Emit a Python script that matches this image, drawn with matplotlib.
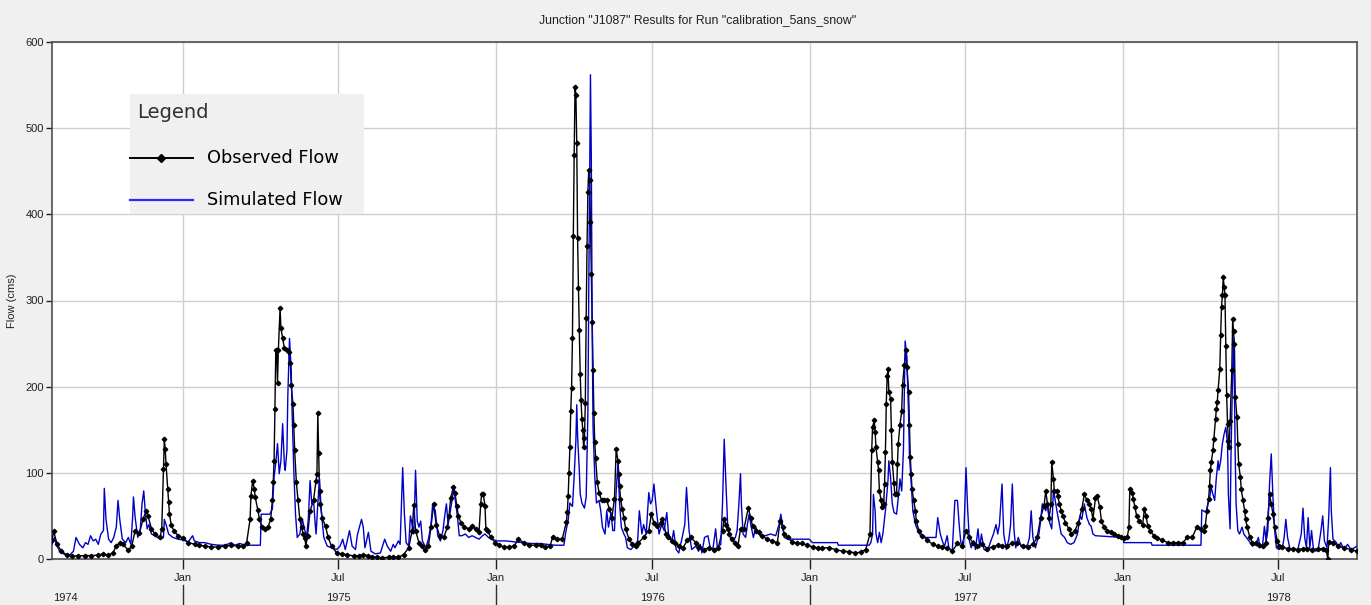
import numpy as np
import matplotlib
matplotlib.use("Agg")
import matplotlib.pyplot as plt
import matplotlib.dates as mdates
from matplotlib.patches import Rectangle
from matplotlib.lines import Line2D
from matplotlib.transforms import blended_transform_factory

# Record start / end of the calibration run
start = np.datetime64("1974-08-01")
end = np.datetime64("1978-10-01")

# Observed flow (cms): day offset from the record start, value
obs_day = [
    0, 2, 6, 11, 17, 23, 30, 38, 46, 54, 60, 65, 71, 75, 79, 83, 89, 93, 97, 102,
    106, 110, 112, 116, 120, 126, 128, 130, 131, 132, 133, 135, 136, 137, 139, 142,
    147, 153, 159, 167, 172, 178, 186, 194, 202, 209, 217, 223, 227, 231, 232, 234,
    236, 237, 240, 242, 245, 248, 252, 255, 257, 258, 259, 260, 261, 262, 263, 264,
    266, 267, 269, 271, 274, 276, 278, 279, 281, 282, 283, 285, 287, 289, 291, 293,
    295, 296, 298, 301, 305, 308, 309, 310, 311, 312, 313, 315, 319, 322, 326, 332,
    338, 344, 352, 358, 363, 369, 373, 379, 385, 393, 398, 404, 410, 416, 420, 422,
    424, 428, 431, 435, 439, 442, 445, 448, 452, 457, 461, 463, 465, 468, 470, 472,
    474, 477, 481, 486, 490, 494, 498, 500, 501, 503, 505, 506, 508, 512, 517, 521,
    527, 533, 539, 544, 550, 556, 564, 570, 575, 581, 584, 589, 595, 600, 601, 602,
    603, 604, 605, 606, 607, 608, 609, 610, 611, 612, 613, 614, 615, 616, 617, 618,
    619, 620, 621, 622, 623, 624, 625, 626, 627, 628, 629, 630, 631, 632, 633, 634,
    636, 638, 641, 644, 647, 650, 653, 656, 658, 660, 661, 662, 663, 665, 667, 669,
    673, 677, 681, 684, 690, 696, 699, 702, 706, 710, 712, 716, 719, 723, 727, 731,
    736, 741, 745, 751, 755, 760, 766, 772, 777, 782, 784, 786, 788, 790, 793, 797,
    800, 803, 807, 812, 815, 817, 821, 824, 828, 834, 840, 846, 849, 852, 854, 858,
    863, 869, 875, 881, 887, 893, 898, 906, 914, 922, 930, 937, 943, 949, 954, 956,
    957, 959, 960, 961, 963, 964, 965, 967, 968, 970, 971, 972, 973, 974, 975, 976,
    978, 979, 980, 982, 983, 985, 986, 987, 989, 991, 992, 994, 996, 997, 999, 1000,
    1001, 1002, 1003, 1005, 1007, 1008, 1011, 1015, 1021, 1027, 1033, 1038, 1044,
    1050, 1056, 1061, 1066, 1070, 1074, 1079, 1085, 1091, 1097, 1103, 1108, 1114,
    1120, 1126, 1132, 1138, 1144, 1149, 1153, 1157, 1159, 1161, 1163, 1165, 1166,
    1168, 1169, 1172, 1173, 1175, 1177, 1179, 1182, 1186, 1189, 1193, 1197, 1201,
    1204, 1207, 1210, 1212, 1214, 1217, 1219, 1222, 1224, 1227, 1231, 1235, 1239,
    1243, 1247, 1250, 1254, 1256, 1257, 1260, 1261, 1263, 1265, 1268, 1272, 1274,
    1276, 1278, 1281, 1285, 1289, 1295, 1301, 1307, 1313, 1319, 1324, 1330, 1335,
    1340, 1344, 1345, 1347, 1349, 1350, 1351, 1352, 1354, 1355, 1357, 1358, 1359,
    1360, 1362, 1363, 1364, 1365, 1366, 1367, 1368, 1369, 1370, 1371, 1372, 1373,
    1374, 1376, 1377, 1378, 1379, 1380, 1382, 1383, 1384, 1386, 1387, 1389, 1391,
    1392, 1394, 1397, 1400, 1404, 1408, 1412, 1416, 1418, 1420, 1422, 1424, 1426,
    1429, 1431, 1435, 1441, 1447, 1453, 1459, 1464, 1470, 1476, 1482, 1486, 1488,
    1489, 1494, 1500, 1507, 1515, 1522,
]
obs_flow = [
    22, 32, 17, 9, 5, 3.5, 3.5, 4, 4, 4.5, 6, 4.5, 7, 15, 19, 17, 10, 15, 33, 30,
    46, 56, 50, 35, 29, 25, 35, 104, 139, 128, 110, 81, 66, 52, 40, 33,
    27, 24, 19, 17, 16, 15, 14, 14, 15, 16, 15, 15, 19, 46, 73, 91,
    81, 72, 57, 46, 37, 35, 37, 46, 68, 89, 114, 174, 243, 243, 204, 243,
    291, 268, 256, 245, 242, 240, 227, 202, 180, 155, 126, 89, 68, 46, 37, 29,
    24, 15, 27, 56, 68, 91, 99, 169, 123, 79, 64, 48, 38, 25, 15, 7,
    6, 5, 3.5, 4, 5, 4, 2, 2, 1.5, 2, 2, 2, 5, 13, 33, 63,
    33, 19, 15, 10, 15, 37, 64, 40, 27, 25, 37, 50, 71, 83, 77, 62,
    50, 42, 37, 35, 38, 35, 31, 64, 75, 75, 62, 35, 33, 25, 19, 16,
    14, 14, 15, 23, 19, 16, 16, 16, 14, 15, 26, 23, 23, 43, 55, 73,
    100, 130, 172, 199, 257, 375, 469, 548, 539, 483, 372, 314, 266, 215, 185, 163,
    150, 130, 140, 181, 280, 363, 426, 451, 440, 391, 331, 275, 219, 169, 136, 117,
    89, 77, 68, 68, 68, 58, 48, 70, 128, 114, 99, 85, 70, 58, 48, 35,
    23, 17, 15, 19, 25, 33, 52, 42, 38, 42, 47, 29, 25, 21, 19, 15,
    13, 22, 25, 19, 14, 11, 13, 11, 13, 33, 46, 40, 35, 29, 23, 18,
    15, 35, 35, 59, 48, 38, 33, 31, 27, 23, 21, 19, 44, 37, 29, 25,
    20, 18, 18, 16, 14, 13, 13, 13, 11, 9, 8.5, 7, 8, 11, 29, 126,
    153, 161, 147, 130, 112, 103, 79, 68, 60, 64, 87, 124, 180, 212, 220, 194,
    186, 150, 113, 88, 75, 75, 110, 134, 156, 172, 202, 225, 242, 223, 194, 155,
    118, 99, 81, 68, 56, 44, 33, 27, 22, 17, 15, 14, 13,
    9, 18, 15, 33, 25, 19, 15, 17, 12, 14, 16, 15, 15,
    19, 19, 15, 14, 17, 25, 48, 62, 79, 64, 48, 64, 112,
    93, 79, 79, 73, 64, 56, 50, 42, 35, 29, 33, 42, 58,
    75, 68, 64, 58, 46, 71, 73, 60, 44, 37, 33, 31, 29,
    27, 25, 24, 25, 37, 81, 77, 70, 60, 50, 44, 40, 58,
    50, 38, 33, 27, 24, 22, 19, 19, 19, 19, 25, 25, 37,
    35, 33, 38, 56, 70, 85, 103, 112, 126, 139, 163, 174, 182,
    196, 221, 260, 293, 306, 327, 316, 306, 247, 190, 157, 137, 130,
    160, 219, 279, 265, 250, 188, 165, 134, 110, 95, 81, 68, 56,
    46, 37, 25, 19, 18, 16, 15, 19, 48, 75, 64, 52, 37,
    21, 15, 14, 12, 12, 11, 12, 12, 11, 12, 12, 11, 0,
    20, 19, 15, 13, 11, 9,
]

# Simulated flow (cms): day offset from the record start, value
sim_day = [
    0, 3, 5, 9, 15, 21, 25, 28, 32, 36, 39, 42, 45, 48, 51, 54, 57, 60, 61, 63,
    66, 69, 72, 75, 77, 79, 82, 86, 89, 92, 94, 95, 97, 100, 103, 105, 107, 109,
    111, 113, 116, 120, 126, 130, 131, 133, 136, 141, 147, 153, 159, 164, 166, 172,
    178, 186, 194, 202, 209, 213, 219, 225, 243, 244, 254, 257, 259, 261, 263, 265,
    267, 269, 271, 272, 274, 275, 277, 279, 280, 282, 284, 286, 289, 292, 294, 297,
    299, 301, 303, 305, 307, 308, 310, 312, 314, 317, 321, 326, 332, 336, 339, 342,
    347, 350, 354, 356, 358, 361, 363, 365, 369, 372, 377, 383, 388, 391, 395, 398,
    400, 404, 406, 409, 411, 413, 416, 418, 420, 422, 424, 426, 428, 430, 432, 436,
    439, 442, 444, 447, 450, 453, 456, 458, 460, 462, 464, 467, 469, 470, 473, 475,
    478, 482, 486, 490, 494, 498, 502, 505, 509, 513, 519, 529, 539, 548, 558, 568,
    577, 587, 597, 599, 602, 604, 607, 609, 611, 612, 613, 615, 616, 618, 621, 623,
    625, 626, 628, 629, 630, 631, 633, 635, 638, 640, 642, 645, 647, 649, 652, 654,
    656, 658, 660, 662, 664, 667, 669, 671, 675, 679, 683, 685, 688, 690, 693, 696,
    698, 700, 702, 705, 708, 711, 714, 717, 719, 723, 725, 728, 731, 735, 738, 740,
    743, 746, 751, 754, 756, 758, 761, 765, 768, 771, 774, 776, 780, 782, 784, 786,
    788, 790, 793, 797, 799, 801, 803, 804, 806, 809, 811, 813, 815, 818, 821, 823,
    826, 832, 838, 844, 848, 850, 852, 854, 858, 883, 887, 916, 917, 953, 955, 957,
    958, 960, 961, 963, 965, 967, 969, 972, 975, 976, 978, 980, 982, 985, 987, 989,
    991, 993, 994, 995, 997, 998, 999, 1000, 1002, 1004, 1007, 1009, 1013, 1019,
    1031, 1033, 1036, 1039, 1041, 1044, 1046, 1050, 1053, 1056, 1058, 1060, 1063,
    1066, 1068, 1070, 1072, 1075, 1077, 1080, 1082, 1084, 1087, 1091, 1095, 1098,
    1101, 1103, 1105, 1108, 1110, 1113, 1116, 1118, 1120, 1122, 1124, 1127, 1130,
    1134, 1138, 1140, 1142, 1144, 1147, 1151, 1153, 1155, 1157, 1159, 1161, 1163,
    1166, 1168, 1170, 1172, 1175, 1177, 1181, 1184, 1188, 1192, 1196, 1199, 1201,
    1204, 1207, 1210, 1212, 1214, 1217, 1249, 1250, 1282, 1283, 1340, 1341, 1346,
    1348, 1350, 1352, 1354, 1356, 1358, 1360, 1361, 1363, 1365, 1367, 1369, 1371,
    1372, 1374, 1375, 1377, 1378, 1379, 1380, 1381, 1383, 1385, 1388, 1390, 1393,
    1396, 1400, 1404, 1407, 1409, 1412, 1414, 1416, 1418, 1420, 1422, 1424, 1426,
    1428, 1431, 1435, 1437, 1439, 1441, 1444, 1453, 1457, 1459, 1461, 1463, 1465,
    1467, 1469, 1471, 1474, 1477, 1480, 1482, 1484, 1487, 1489, 1491, 1492, 1494,
    1498, 1500, 1503, 1507, 1511, 1515, 1519, 1522,
]
sim_flow = [
    17, 25, 17, 9, 5, 5, 9, 25, 17, 13, 19, 17, 27, 21, 23, 17, 29, 33, 82, 46,
    23, 19, 25, 37, 68, 46, 23, 19, 25, 17, 48, 72, 48, 25, 35, 64, 79, 52,
    35, 40, 29, 27, 23, 25, 46, 40, 29, 25, 23, 22, 20, 27, 21, 19,
    19, 17, 16, 16, 19, 16, 18, 16, 16, 52, 52, 58, 95, 112, 134, 99,
    114, 157, 110, 103, 126, 188, 256, 219, 172, 103, 52, 25, 29, 46, 37, 25,
    48, 91, 64, 68, 40, 29, 64, 93, 56, 25, 15, 13, 11, 15, 23, 11,
    33, 15, 11, 27, 35, 46, 37, 13, 31, 9, 6, 7, 23, 15, 9, 17,
    13, 21, 17, 106, 52, 19, 15, 50, 40, 29, 103, 44, 37, 44, 21, 13,
    23, 40, 64, 56, 27, 21, 33, 50, 64, 40, 52, 71, 85, 71, 48, 27,
    27, 29, 25, 27, 25, 23, 27, 29, 25, 23, 21, 21, 20, 19, 18, 18,
    17, 16, 16, 30, 45, 65, 61, 96, 138, 179, 142, 103, 76, 65, 59, 72,
    169, 308, 562, 463, 270, 154, 96, 65, 68, 56, 37, 29, 56, 37, 54, 33,
    33, 79, 110, 64, 37, 29, 25, 13, 11, 15, 21, 56, 29, 40, 29, 77,
    64, 68, 87, 56, 29, 40, 33, 54, 29, 21, 33, 11, 7, 25, 40, 83,
    33, 11, 15, 9, 17, 7, 25, 27, 11, 13, 35, 13, 17, 64, 139, 87,
    40, 27, 21, 25, 33, 62, 99, 64, 29, 25, 40, 52, 40, 25, 37, 31,
    27, 27, 29, 27, 40, 52, 40, 25, 23, 23, 19, 19, 16, 16, 19, 29,
    75, 56, 29, 19, 31, 19, 29, 56, 91, 114, 95, 64, 54, 52, 71, 93,
    79, 126, 188, 253, 235, 200, 169, 122, 88, 56, 40, 35, 27, 25,
    25, 48, 29, 19, 15, 27, 13, 9, 68, 68, 40, 19, 13,
    106, 56, 21, 13, 21, 11, 35, 13, 29, 11, 9, 21, 29,
    40, 29, 40, 87, 29, 11, 23, 40, 87, 33, 13, 25, 15,
    13, 17, 25, 56, 25, 13, 29, 44, 64, 62, 56, 64, 44,
    35, 81, 68, 56, 40, 29, 25, 19, 17, 19, 29, 50, 46,
    64, 48, 40, 38, 29, 27, 25, 19, 19, 16, 16, 57, 54,
    64, 71, 83, 75, 68, 95, 114, 103, 114, 134, 145, 153, 134,
    75, 35, 118, 219, 256, 200, 118, 64, 33, 29, 37, 29, 25,
    21, 15, 17, 25, 13, 17, 38, 21, 33, 87, 122, 71, 33,
    13, 11, 13, 25, 46, 25, 11, 11, 29, 59, 25, 13, 48,
    13, 33, 13, 9, 13, 33, 50, 21, 13, 48, 106, 56, 23,
    19, 13, 19, 11, 17, 11, 13, 15,
]

obs_dates = start + np.array(obs_day).astype("timedelta64[D]")
sim_dates = start + np.array(sim_day).astype("timedelta64[D]")

years = [1975, 1976, 1977, 1978]

plt.rcParams["font.family"] = ["Liberation Sans Narrow", "Liberation Sans", "DejaVu Sans"]

W, H = 1371, 605
fig = plt.figure(figsize=(W / 100, H / 100), dpi=100, facecolor="#f0f0f0")
ax = fig.add_axes([52 / W, 46 / H, 1305 / W, 517 / H])
ax.set_facecolor("white")

ax.plot(obs_dates, obs_flow, color="black", lw=1.0, zorder=3)
ax.plot(sim_dates, sim_flow, color="#0000c8", lw=1.0, zorder=4)
ax.plot(obs_dates, obs_flow, ls="none", marker="D", ms=2.3,
        mfc="black", mec="black", zorder=5)

ax.set_xlim(start, end)
ax.set_ylim(0, 600)
ax.set_yticks(range(0, 601, 100))
ax.xaxis.set_major_locator(mdates.MonthLocator(bymonth=[1, 7]))
ax.xaxis.set_major_formatter(mdates.DateFormatter("%b"))
ax.tick_params(axis="x", length=7, width=1, pad=3, labelsize=8, colors="#202020")
ax.tick_params(axis="y", length=4, width=1, pad=2, labelsize=8, colors="#202020")

ax.grid(True, color="#cfcfcf", lw=1)
ax.set_axisbelow(True)
for side in ("left", "bottom", "top", "right"):
    ax.spines[side].set_color("#505050")
    ax.spines[side].set_linewidth(1.2)

ax.set_ylabel("Flow (cms)", fontsize=8, color="#202020")
ax.yaxis.set_label_coords(-0.027, 0.5)

# Year row below the month labels
trans = blended_transform_factory(ax.transData, ax.transAxes)
ax.text(start + np.timedelta64(1, "D"), -0.0745, "1974", transform=trans,
        ha="left", va="center", fontsize=8, color="#202020")
for yr in years:
    ax.text(np.datetime64(f"{yr}-07-01"), -0.0745, str(yr), transform=trans,
            ha="center", va="center", fontsize=8, color="#202020")
    ax.add_line(Line2D([np.datetime64(f"{yr}-01-01")] * 2, [-0.050, -0.088],
                       transform=trans, color="#303030", lw=1, clip_on=False))

fig.text(698 / W, 1 - 20 / H,
         'Junction "J1087" Results for Run "calibration_5ans_snow"',
         ha="center", va="center", fontsize=8.8, color="#202020")

# Legend panel
ax.add_patch(Rectangle((0.0598, 0.667), 0.179, 0.232, transform=ax.transAxes,
                       facecolor="#f0f0f0", edgecolor="none", zorder=6))
ax.text(0.0651, 0.8627, "Legend", transform=ax.transAxes, ha="left",
        va="center", fontsize=14, color="#303030", family="DejaVu Sans", zorder=7)
ax.add_line(Line2D([0.0598, 0.108], [0.7756, 0.7756], transform=ax.transAxes,
                   color="black", lw=1.4, zorder=7))
ax.add_line(Line2D([0.0835], [0.7756], transform=ax.transAxes, marker="D",
                   ms=4, color="black", zorder=8))
ax.add_line(Line2D([0.0598, 0.108], [0.6944, 0.6944], transform=ax.transAxes,
                   color="#2a2aff", lw=1.6, zorder=7))
ax.text(0.1188, 0.7756, "Observed Flow", transform=ax.transAxes, ha="left",
        va="center", fontsize=12.8, color="black", family="DejaVu Sans", zorder=7)
ax.text(0.1188, 0.6944, "Simulated Flow", transform=ax.transAxes, ha="left",
        va="center", fontsize=12.8, color="black", family="DejaVu Sans", zorder=7)

fig.savefig("out.png", dpi=100, facecolor=fig.get_facecolor())
